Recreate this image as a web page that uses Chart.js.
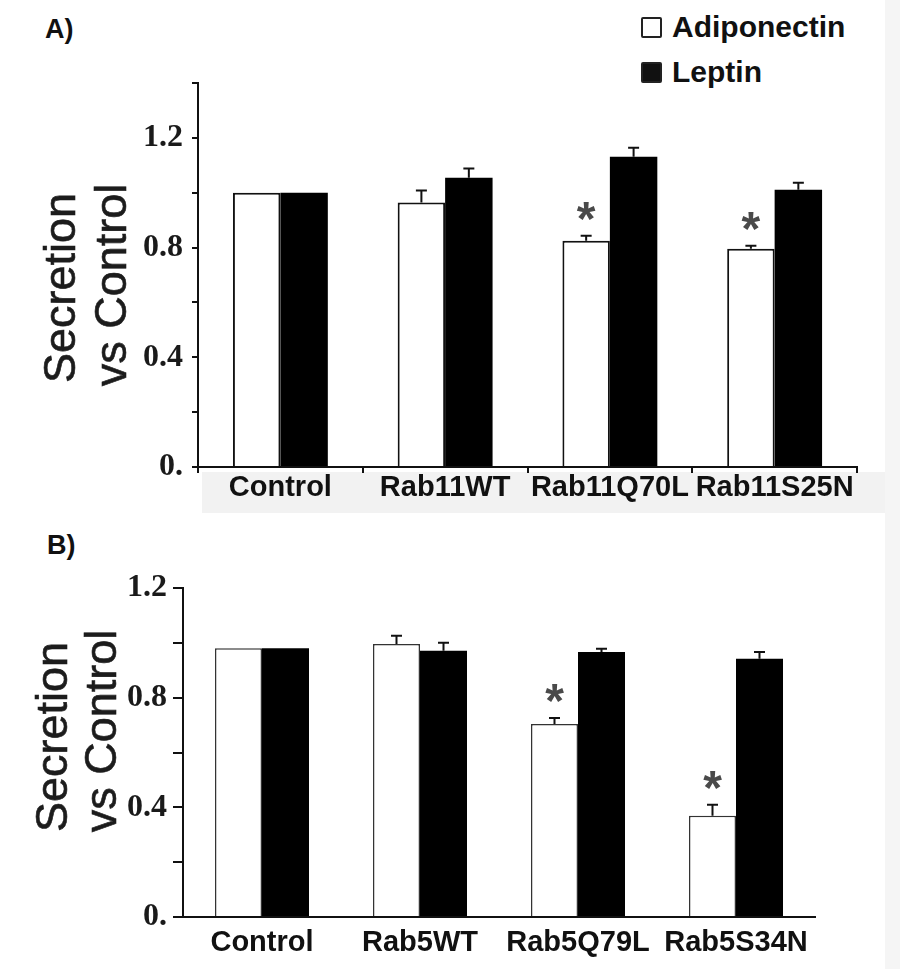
<!DOCTYPE html>
<html><head><meta charset="utf-8">
<script src="https://cdn.jsdelivr.net/npm/chart.js@4"></script>
<style>
body{margin:0;background:#fff;width:900px;height:969px;position:relative;overflow:hidden;font-family:"Liberation Sans",Arial,sans-serif}
.abs{position:absolute}
.panel{font-weight:bold;font-size:27px;color:#111;line-height:1}
.leg{font-weight:bold;font-size:30px;color:#111;line-height:1;display:flex;align-items:center}
.box{width:17px;height:17px;margin-right:10px;border:2.5px solid #222;border-radius:2px}
.ytitle{position:absolute;white-space:nowrap;font-size:45px;line-height:1;color:#1c1c1c;-webkit-text-stroke:0.6px #1c1c1c;transform:translate(-50%,-50%) rotate(-90deg);z-index:2}
canvas{position:absolute;left:0;z-index:1}
</style></head><body>
<div class="abs" style="left:885px;top:0;width:15px;height:969px;background:#f5f5f5"></div>
<div class="abs" style="left:202px;top:472px;width:683px;height:41px;background:#f2f2f2"></div>
<div class="abs panel" style="left:45px;top:16px">A)</div>
<div class="abs panel" style="left:47px;top:532px">B)</div>
<div class="abs leg" style="left:641px;top:12px"><div class="box" style="background:#fff"></div>Adiponectin</div>
<div class="abs leg" style="left:641px;top:57px"><div class="box" style="background:#111"></div>Leptin</div>
<div class="ytitle" id="tA1" style="left:59px;top:288px"></div>
<div class="ytitle" id="tA2" style="left:110px;top:285px"></div>
<div class="ytitle" id="tB1" style="left:51px;top:737px"></div>
<div class="ytitle" id="tB2" style="left:100px;top:731px"></div>
<canvas id="cA" width="900" height="515" style="top:0"></canvas>
<canvas id="cB" width="900" height="454" style="top:515px"></canvas>
<script>
// ---- Panel A data ----
const categoriesA = ['Control', 'Rab11WT', 'Rab11Q70L', 'Rab11S25N'];
const adiponectinA = [1.0, 0.964, 0.825, 0.796];
const adiponectinErrA = [0, 0.044, 0.018, 0.011];
const leptinA = [1.0, 1.055, 1.131, 1.011];
const leptinErrA = [0, 0.033, 0.033, 0.025];
const starsA = [false, false, true, true];
const yTicksA = [0, 0.4, 0.8, 1.2];
const yTickTextA = ['0.', '0.4', '0.8', '1.2'];

// ---- Panel B data ----
const categoriesB = ['Control', 'Rab5WT', 'Rab5Q79L', 'Rab5S34N'];
const adiponectinB = [0.98, 0.996, 0.704, 0.369];
const adiponectinErrB = [0, 0.03, 0.022, 0.04];
const leptinB = [0.98, 0.971, 0.967, 0.942];
const leptinErrB = [0, 0.029, 0.011, 0.025];
const starsB = [false, false, true, true];
const yTicksB = [0, 0.4, 0.8, 1.2];
const yTickTextB = ['0.', '0.4', '0.8', '1.2'];

const seriesNames = ['Adiponectin', 'Leptin'];
const yTitle = ['Secretion', 'vs Control'];

['tA1', 'tB1'].forEach(id => document.getElementById(id).textContent = yTitle[0]);
['tA2', 'tB2'].forEach(id => document.getElementById(id).textContent = yTitle[1]);

function extrasPlugin(errs, stars, errW, capW) {
  return {
    id: 'extras',
    afterDatasetsDraw(chart) {
      const ctx = chart.ctx;
      const y = chart.scales.y;
      ctx.save();
      chart.data.datasets.forEach((ds, di) => {
        const meta = chart.getDatasetMeta(di);
        meta.data.forEach((el, i) => {
          const e = errs[di][i];
          let topPix = el.y;
          if (e > 0) {
            const yt = y.getPixelForValue(ds.data[i] + e);
            ctx.strokeStyle = '#111';
            ctx.lineWidth = errW;
            ctx.beginPath();
            ctx.moveTo(el.x, el.y);
            ctx.lineTo(el.x, yt);
            ctx.moveTo(el.x - capW / 2, yt);
            ctx.lineTo(el.x + capW / 2, yt);
            ctx.stroke();
            topPix = yt;
          }
          if (di === 0 && stars[i]) {
            ctx.fillStyle = '#4a4a4a';
            ctx.font = 'bold 48px "Liberation Sans"';
            ctx.textAlign = 'center';
            ctx.textBaseline = 'alphabetic';
            ctx.fillText('*', el.x, topPix - 1);
          }
        });
      });
      ctx.restore();
    }
  };
}

function makeChart(id, cfg) {
  const tickFont = {family: '"Liberation Serif"', weight: 'bold', size: 32};
  return new Chart(document.getElementById(id), {
    type: 'bar',
    data: {
      labels: cfg.categories,
      datasets: [
        {label: seriesNames[0], data: cfg.adipo, backgroundColor: '#ffffff', borderColor: cfg.wBorder, borderWidth: cfg.wBorderW, borderSkipped: 'start'},
        {label: seriesNames[1], data: cfg.leptin, backgroundColor: '#000000', borderWidth: 0}
      ]
    },
    options: {
      responsive: false,
      animation: false,
      devicePixelRatio: 1,
      layout: {padding: {top: cfg.padTop, right: cfg.padRight, left: 0, bottom: 0}},
      datasets: {bar: {categoryPercentage: cfg.catPct, barPercentage: 1.0}},
      plugins: {legend: {display: false}, tooltip: {enabled: false}},
      scales: {
        x: {
          afterFit: (s) => { s.height = cfg.xHeight; },
          grid: cfg.xTicks ? {display: true, drawOnChartArea: false, drawTicks: true, tickLength: 6, color: '#111', lineWidth: 2, offset: true}
                           : {display: true, drawOnChartArea: false, drawTicks: false},
          border: {display: true, color: '#111', width: 2},
          ticks: {color: '#111', padding: cfg.xPad, font: {family: '"Liberation Sans"', weight: 'bold', size: 29, lineHeight: 1}, autoSkip: false, maxRotation: 0}
        },
        y: {
          min: 0, max: cfg.yMax,
          afterFit: (s) => { s.width = cfg.yWidth; },
          grid: {display: true, drawOnChartArea: false, drawTicks: true, tickLength: cfg.yTick, color: '#111', lineWidth: 2},
          border: {display: true, color: '#111', width: 2},
          ticks: {
            stepSize: 0.2, color: '#1a1a1a', padding: cfg.yPad, font: tickFont,
            callback: (v) => {
              const k = cfg.yTicks.findIndex(t => Math.abs(t - v) < 1e-6);
              return k >= 0 ? cfg.yTickText[k] : '';
            }
          },
          title: {display: false}
        }
      }
    },
    plugins: [extrasPlugin(cfg.errs, cfg.stars, 2, 11)]
  });
}

makeChart('cA', {
  categories: categoriesA, adipo: adiponectinA, leptin: leptinA,
  errs: [adiponectinErrA, leptinErrA], stars: starsA,
  yTicks: yTicksA, yTickText: yTickTextA, yMax: 1.4,
  padTop: 83, padRight: 43, xHeight: 48, yWidth: 198,
  catPct: 0.576, xTicks: true, xPad: 0, yTick: 6, yPad: 9,
  wBorder: '#111', wBorderW: 2
});
makeChart('cB', {
  categories: categoriesB, adipo: adiponectinB, leptin: leptinB,
  errs: [adiponectinErrB, leptinErrB], stars: starsB,
  yTicks: yTicksB, yTickText: yTickTextB, yMax: 1.2,
  padTop: 73, padRight: 85, xHeight: 52, yWidth: 183,
  catPct: 0.595, xTicks: false, xPad: 11, yTick: 10, yPad: 6,
  wBorder: '#333', wBorderW: 1.5
});
</script>
</body></html>
